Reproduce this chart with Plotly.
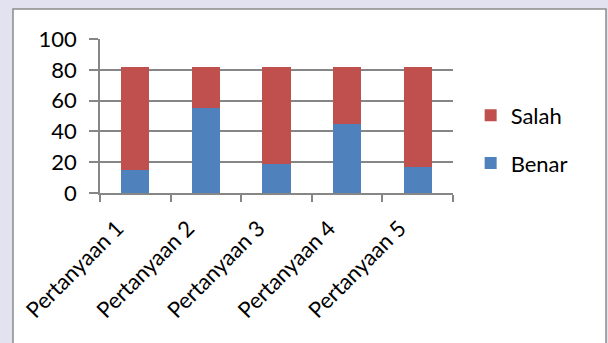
import plotly.graph_objects as go

categories = ["Pertanyaan 1", "Pertanyaan 2", "Pertanyaan 3", "Pertanyaan 4", "Pertanyaan 5"]
benar = [15, 55, 19, 45, 17]
salah = [67, 27, 63, 37, 65]
y_ticks = [0, 20, 40, 60, 80, 100]

FONT = "Lato, 'Open Sans', sans-serif"
GRID = "#868686"

fig = go.Figure()
fig.add_trace(go.Bar(x=categories, y=benar, name="Benar", legendgroup="b", legendrank=2,
                     marker=dict(color="#4F81BD", line=dict(width=0))))
fig.add_trace(go.Bar(x=categories, y=salah, name="Salah", legendgroup="s", legendrank=1,
                     marker=dict(color="#C0504D", line=dict(width=0))))

fig.update_layout(
    width=608, height=343,
    barmode="stack", bargap=0.6,
    margin=dict(l=100, r=155, t=39, b=150, pad=0),
    paper_bgcolor="#e2e2f0",
    plot_bgcolor="white",
    font=dict(family=FONT, size=22, color="black"),
    showlegend=True,
    legend=dict(
        traceorder="grouped",
        x=1.05, y=0.347, xanchor="left", yanchor="middle",
        bgcolor="rgba(0,0,0,0)",
        font=dict(family=FONT, size=22, color="black"),
        tracegroupgap=16, itemwidth=30,
    ),
    shapes=[dict(
        type="rect", xref="paper", yref="paper",
        x0=-87 / 353, x1=506 / 353, y0=-200 / 153.4, y1=(192.7 - 9.5) / 153.4,
        fillcolor="white", line=dict(color="#8c8c8c", width=1.5), layer="below",
    )],
)

fig.update_xaxes(
    type="category",
    tickangle=-45,
    tickson="boundaries",
    ticks="outside", ticklen=7, tickcolor=GRID, tickwidth=1.5,
    showline=True, linecolor=GRID, linewidth=1.5,
    showgrid=False,
    tickfont=dict(family=FONT, size=22, color="black"),
    ticklabelshift=-18,
    ticklabelstandoff=12,
)
fig.update_yaxes(
    range=[0, 100], tickvals=y_ticks,
    ticks="outside", ticklen=9, tickcolor=GRID, tickwidth=1.5,
    showline=True, linecolor=GRID, linewidth=1.5,
    showgrid=True, gridcolor=GRID, gridwidth=1.5,
    zeroline=False,
    tickfont=dict(family=FONT, size=22, color="black"),
    ticklabelstandoff=8,
)

fig.write_html("out.html")
